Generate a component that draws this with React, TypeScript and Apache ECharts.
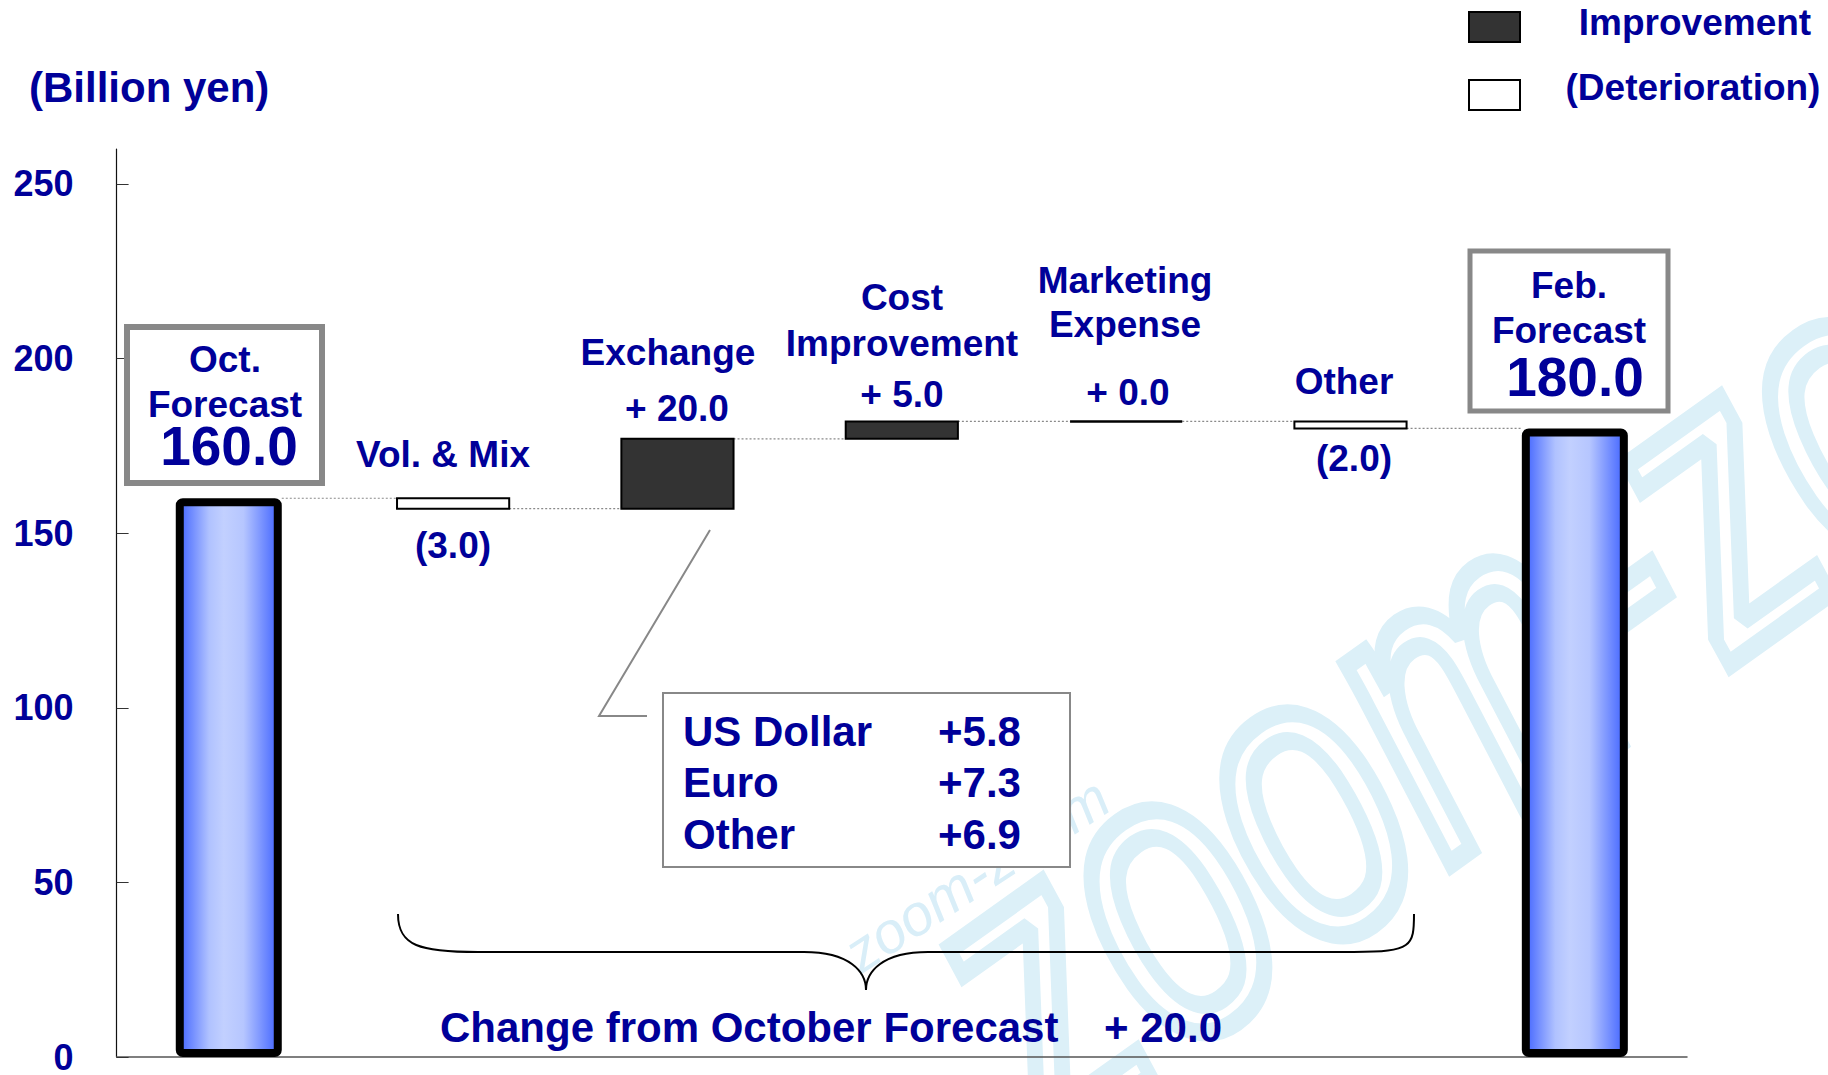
import React, { useEffect, useRef } from "react";
import * as echarts from "echarts";

// ---- data ----
const categories = [
  "Oct. Forecast",
  "Vol. & Mix",
  "Exchange",
  "Cost Improvement",
  "Marketing Expense",
  "Other",
  "Feb. Forecast",
];
const octForecast = 160.0;
const febForecast = 180.0;
const deltas = [-3.0, 20.0, 5.0, 0.0, -2.0];
const deltaLabels = ["(3.0)", "+ 20.0", "+ 5.0", "+ 0.0", "(2.0)"];
const yTicks = [0, 50, 100, 150, 200, 250];
const exchangeNames = ["US Dollar", "Euro", "Other"];
const exchangeValues = ["+5.8", "+7.3", "+6.9"];
const totalChangeLabel = "+ 20.0";

const NAVY = "#000099";
const FONT = "'Liberation Sans', Arial, sans-serif";

echarts.graphic.registerShape(
  "brace",
  echarts.graphic.extendPath(
    "M398 914 C398 946 420 952 478 952 L804 952 C850 952 866 972 866 990 C866 972 882 952 928 952 L1354 952 C1412 952 1414 946 1414 914",
    {}
  )
);

function txt(text: string, x: number, y: number, size: number, align = "center", extra: any = {}) {
  return {
    type: "text",
    x,
    y,
    z: 20,
    style: {
      text,
      fontSize: size,
      fontWeight: "bold",
      fontFamily: FONT,
      fill: NAVY,
      align,
      verticalAlign: "middle",
      ...extra,
    },
  };
}

export default function App() {
  const ref = useRef<HTMLDivElement>(null);
  useEffect(() => {
    document.body.style.margin = "0";
    const chart = echarts.init(ref.current!, null, { renderer: "svg" });

    // waterfall ranges
    const ranges: number[][] = [];
    let level = octForecast;
    deltas.forEach((d, i) => {
      ranges.push([i + 1, level, level + d]);
      level += d;
    });
    // connectors: [fromIdx, toIdx, level]
    const connectors: number[][] = [];
    let lv = octForecast;
    for (let i = 0; i < deltas.length; i++) {
      connectors.push([i, i + 1, lv]);
      lv += deltas[i];
    }
    connectors.push([deltas.length, deltas.length + 1, lv]);

    const totalsData = categories.map((_, i) =>
      i === 0 ? octForecast : i === categories.length - 1 ? febForecast : "-"
    );
    const TOTAL_BW = 106;
    const TOTAL_BORDER = 8;

    const option: any = {
      animation: false,
      backgroundColor: "#ffffff",
      grid: { left: 116.6, right: 141, top: 149, bottom: 13, containLabel: false },
      xAxis: {
        type: "category",
        data: categories,
        boundaryGap: true,
        axisLine: { lineStyle: { color: "#555", width: 1.5 } },
        axisTick: { inside: true, length: 14, lineStyle: { color: "#666" } },
        axisLabel: { show: false },
        splitLine: { show: false },
      },
      yAxis: {
        type: "value",
        min: 0,
        max: 260,
        interval: 50,
        axisLine: { show: true, lineStyle: { color: "#111", width: 1.2 } },
        axisTick: {
          show: true,
          inside: true,
          length: 12,
          customValues: yTicks,
          lineStyle: { color: "#333" },
        },
        axisLabel: {
          customValues: yTicks,
          margin: 43,
          color: NAVY,
          fontSize: 36,
          fontWeight: "bold",
          fontFamily: FONT,
        },
        splitLine: { show: false },
      },
      series: [
        {
          type: "custom",
          name: "connectors",
          z: 1,
          data: connectors,
          encode: { x: 0, y: 2 },
          renderItem: (params: any, api: any) => {
            const from = api.value(0);
            const to = api.value(1);
            const lvl = api.value(2);
            const band = api.size([1, 0])[0];
            const half = (idx: number) =>
              idx === 0 || idx === categories.length - 1 ? TOTAL_BW / 2 : band * 0.25;
            const pFrom = api.coord([from, lvl]);
            const pTo = api.coord([to, lvl]);
            return {
              type: "line",
              shape: { x1: pFrom[0] + half(from), y1: pFrom[1], x2: pTo[0] - half(to), y2: pTo[1] },
              style: { stroke: "#8a8a8a", lineWidth: 1.2, lineDash: [2, 2] },
            };
          },
        },
        {
          type: "custom",
          name: "changes",
          z: 3,
          data: ranges,
          encode: { x: 0, y: [1, 2] },
          renderItem: (params: any, api: any) => {
            const idx = api.value(0);
            const s = api.value(1);
            const e = api.value(2);
            const p0 = api.coord([idx, s]);
            const p1 = api.coord([idx, e]);
            const band = api.size([1, 0])[0];
            const w = band * 0.5;
            const x = p0[0] - w / 2;
            const h = Math.abs(p1[1] - p0[1]);
            if (h < 0.5) {
              return {
                type: "line",
                shape: { x1: x, y1: p0[1], x2: x + w, y2: p0[1] },
                style: { stroke: "#000", lineWidth: 2.5 },
              };
            }
            return {
              type: "rect",
              shape: { x, y: Math.min(p0[1], p1[1]), width: w, height: h },
              style: {
                fill: e > s ? "#333333" : "#ffffff",
                stroke: "#000",
                lineWidth: 2,
              },
            };
          },
        },
        {
          type: "bar",
          name: "totals",
          z: 4,
          data: totalsData,
          barWidth: TOTAL_BW,
          itemStyle: {
            color: new echarts.graphic.LinearGradient(0, 0, 1, 0, [
              { offset: 0, color: "#4466ff" },
              { offset: 0.3, color: "#b0c2ff" },
              { offset: 0.45, color: "#c2d0ff" },
              { offset: 0.65, color: "#b6c6ff" },
              { offset: 1, color: "#4466ff" },
            ]),
            borderColor: "#000",
            borderWidth: TOTAL_BORDER,
            borderRadius: 3,
          },
        },
      ],
      graphic: [
        // watermark
        {
          type: "text",
          x: 1090,
          y: 1200,
          rotation: 0.62,
          scaleY: 1.4,
          z: 0,
          style: {
            text: "zoom-zoom",
            fontSize: 300,
            fontStyle: "italic",
            fontFamily: FONT,
            fill: "none",
            stroke: "#dcf0f8",
            lineWidth: 14,
            align: "left",
            verticalAlign: "bottom",
          },
        },
        {
          type: "text",
          x: 866,
          y: 982,
          rotation: 0.58,
          z: 0,
          style: {
            text: "zoom-zoom",
            fontSize: 58,
            fontStyle: "italic",
            fontFamily: FONT,
            fill: "#d9eef8",
            align: "left",
            verticalAlign: "bottom",
          },
        },
        // title
        txt("(Billion yen)", 29, 87, 42, "left"),
        // legend
        {
          type: "rect",
          z: 20,
          shape: { x: 1469, y: 12, width: 51, height: 30 },
          style: { fill: "#333333", stroke: "#000", lineWidth: 2 },
        },
        {
          type: "rect",
          z: 20,
          shape: { x: 1469, y: 80, width: 51, height: 30 },
          style: { fill: "#ffffff", stroke: "#000", lineWidth: 2 },
        },
        txt("Improvement", 1695, 22, 37),
        txt("(Deterioration)", 1693, 87, 37),
        // Oct box
        {
          type: "rect",
          z: 20,
          shape: { x: 127, y: 327, width: 195, height: 156 },
          style: { fill: "#ffffff", stroke: "#888888", lineWidth: 6 },
        },
        txt("Oct.", 225, 359, 37),
        txt("Forecast", 225, 404, 37),
        txt(octForecast.toFixed(1), 229, 446, 55),
        // Feb box
        {
          type: "rect",
          z: 20,
          shape: { x: 1470, y: 251, width: 198, height: 160 },
          style: { fill: "#ffffff", stroke: "#888888", lineWidth: 5 },
        },
        txt("Feb.", 1569, 285, 37),
        txt("Forecast", 1569, 330, 37),
        txt(febForecast.toFixed(1), 1575, 377, 55),
        // category labels
        txt("Vol. & Mix", 443, 454, 37),
        txt(deltaLabels[0], 453, 545, 37),
        txt("Exchange", 668, 352, 37),
        txt(deltaLabels[1], 677, 408, 37),
        txt("Cost", 902, 297, 37),
        txt("Improvement", 902, 343, 37),
        txt(deltaLabels[2], 902, 394, 37),
        txt("Marketing", 1125, 280, 37),
        txt("Expense", 1125, 324, 37),
        txt(deltaLabels[3], 1128, 392, 37),
        txt("Other", 1344, 381, 37),
        txt(deltaLabels[4], 1354, 458, 37),
        // callout
        {
          type: "polyline",
          z: 20,
          shape: { points: [[710, 530], [599, 716], [647, 716]] },
          style: { fill: "none", stroke: "#888888", lineWidth: 2 },
        },
        {
          type: "rect",
          z: 20,
          shape: { x: 663, y: 693, width: 407, height: 174 },
          style: { fill: "#ffffff", stroke: "#888888", lineWidth: 2 },
        },
        ...exchangeNames.map((n, i) => txt(n, 683, 731 + i * 51.5, 42, "left")),
        ...exchangeValues.map((v, i) => txt(v, 938, 731 + i * 51.5, 42, "left")),
        // brace
        {
          type: "brace",
          z: 20,
          x: 0,
          y: 0,
          style: { fill: "none", stroke: "#000", lineWidth: 2 },
        },
        txt("Change from October Forecast", 440, 1027, 42, "left"),
        txt(totalChangeLabel, 1222, 1027, 42, "right"),
      ],
    };
    chart.setOption(option);
    return () => chart.dispose();
  }, []);
  return <div ref={ref} style={{ width: 1828, height: 1075 }} />;
}
